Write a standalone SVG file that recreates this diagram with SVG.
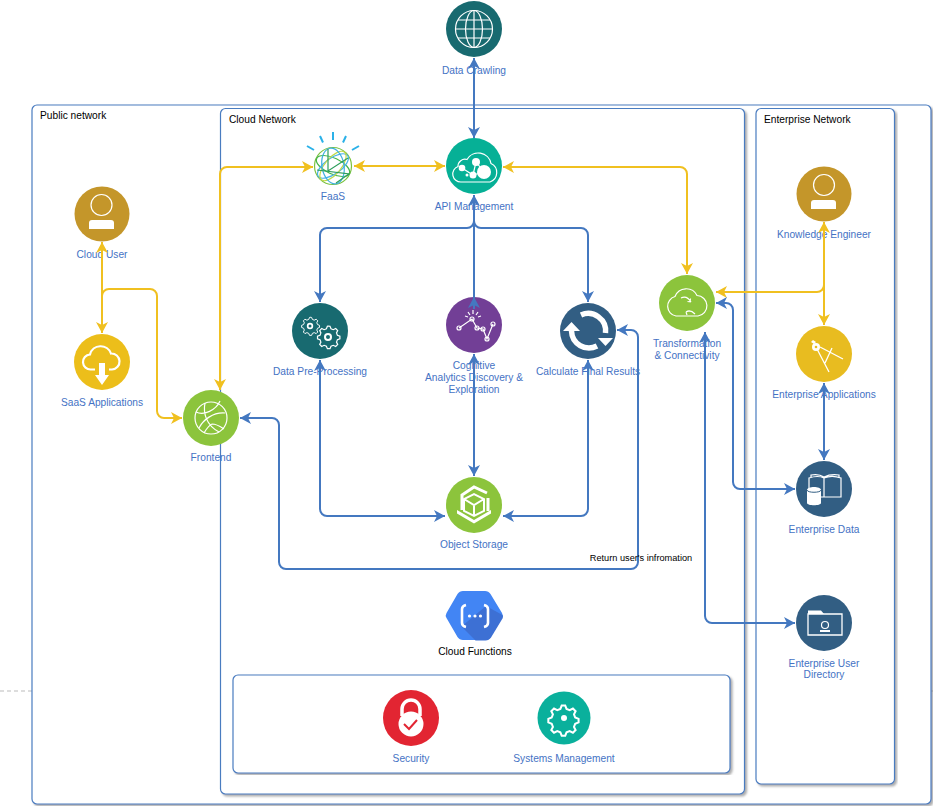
<svg xmlns="http://www.w3.org/2000/svg" width="933" height="806" viewBox="0 0 933 806">
<style>
text{font-family:"Liberation Sans",Arial,sans-serif;font-size:10.2px;text-anchor:middle;fill:#4472c4}
text.k{fill:#000}
text.s{text-anchor:start;fill:#000}
.box{fill:#fff;stroke:#4a7cc0;stroke-width:1.2;filter:url(#sh)}
.b{fill:none;stroke:#4478c0;stroke-width:2}
.y{fill:none;stroke:#f0c020;stroke-width:2}
.bb{marker-end:url(#ab);marker-start:url(#ab)}
.be{marker-end:url(#ab)}
.yy{marker-end:url(#ay);marker-start:url(#ay)}
.ye{marker-end:url(#ay)}
.i{fill:none;stroke:#fff;stroke-width:1.2}
.f{fill:#fff;stroke:none}
</style>
<defs>
<filter id="sh" x="-2%" y="-2%" width="104%" height="104%"><feDropShadow dx="2" dy="2" stdDeviation="1" flood-color="#777" flood-opacity=".6"/></filter>
<marker id="ab" viewBox="0 0 12 12" refX="11" refY="6" markerWidth="12" markerHeight="12" markerUnits="userSpaceOnUse" orient="auto-start-reverse"><path d="M0 0L11 6L0 12L3 6Z" fill="#4478c0"/></marker>
<marker id="ay" viewBox="0 0 12 12" refX="11" refY="6" markerWidth="12" markerHeight="12" markerUnits="userSpaceOnUse" orient="auto-start-reverse"><path d="M0 0L11 6L0 12L3 6Z" fill="#f0c020"/></marker>
<g id="gear"><path class="i" d="M0-10l2 .3 1 2.500 2.300.9 2.400-1.200 2 2-1.200 2.400.9 2.300 2.500 1v2.600l-2.500 1-.9 2.300 1.200 2.400-2 2-2.400-1.200-2.300.9-1 2.500h-2.600l-1-2.500-2.300-.9-2.400 1.200-2-2 1.200-2.400-.9-2.300-2.500-1v-2.600l2.500-1 .9-2.300-1.200-2.400 2-2 2.400 1.200 2.300-.9 1-2.500z" transform="translate(0,-1)"/><circle class="f" r="4"/></g>
</defs>

<path d="M0 691H32M931 691H933" fill="none" stroke="#bbb" stroke-dasharray="4 3"/>

<g id="public-network"><rect class="box" x="32" y="105" width="899" height="699" rx="5"/><text class="s" x="40" y="119">Public network</text></g>
<g id="cloud-network"><rect class="box" x="220.500" y="108.500" width="524" height="685.500" rx="5"/><text class="s" x="229" y="123">Cloud Network</text></g>
<g id="enterprise-network"><rect class="box" x="756" y="108.500" width="138.500" height="675.500" rx="5"/><text class="s" x="764" y="123">Enterprise Network</text></g>
<g id="services-panel"><rect class="box" x="233" y="675" width="497" height="98" rx="5"/></g>

<g id="data-crawling"><circle cx="474" cy="29" r="28" fill="#186a70"/><g class="i" transform="translate(474,29)"><circle r="18.500"/><ellipse rx="8.500" ry="18.500"/><path d="M0-18.500V18.500M-18.500 0H18.500M-16-9H16M-16 9H16"/></g><text x="474" y="73.500">Data Crawling</text></g>
<g id="api-management"><circle cx="474" cy="166" r="28" fill="#06b096"/><path class="i" d="M461 182a8 8 0 0 1-3-15.500a7 7 0 0 1 9-7a13 13 0 0 1 24 4a10 10 0 0 1-1 18.500z"/><g class="f"><circle cx="484" cy="172" r="7"/><circle cx="476" cy="162" r="4"/><circle cx="462" cy="168" r="3.300"/><circle cx="473" cy="175" r="3.500"/><circle cx="467" cy="175" r="1.500"/></g><path class="i" d="M462 168L473 175L476 162L484 172L473 175"/><text x="474" y="210">API Management</text></g>
<g id="faas"><g fill="none" stroke-width="1.200" transform="translate(333,166)"><circle r="18.500" stroke="#7cc242"/><ellipse rx="18" ry="8" stroke="#45b649" transform="rotate(25)"/><ellipse rx="18" ry="8" stroke="#4ab4e8" transform="rotate(-35)"/><ellipse rx="8" ry="18" stroke="#c0d84a" transform="rotate(40)"/><ellipse rx="11" ry="18" stroke="#3fb0e0" transform="rotate(-10)"/><path d="M-5-17L-5 5L15-8M-16 4L16 8L3 17" stroke="#2e9e5a"/></g><path d="M333 132v8M320 136l3 6.500M346 136l-3 6.500M307 146l7 4M359 146l-7 4" stroke="#2bb1e8" stroke-width="2" fill="none"/><text x="333" y="200">FaaS</text></g>
<g id="cloud-user"><circle cx="102" cy="214" r="27.500" fill="#c4962a"/><circle class="i" cx="101.500" cy="205" r="10.500"/><path class="f" d="M89 229v-6a3 3 0 0 1 3-3h19a3 3 0 0 1 3 3v6z"/><text x="102" y="258">Cloud User</text></g>
<g id="saas-applications"><circle cx="102" cy="362" r="28" fill="#ecbe1a"/><path fill="none" stroke="#fff" stroke-width="2.200" d="M91 369.500a7.500 7.500 0 0 1-1-15a11 11 0 0 1 21-1a8 8 0 0 1 1 16z"/><rect x="95" y="363" width="14" height="9" fill="#ecbe1a"/><path class="f" d="M99 363h6v12h4l-7 10-7-10h4z"/><text x="102" y="406">SaaS Applications</text></g>
<g id="frontend"><circle cx="211" cy="418" r="28" fill="#8cc43c"/><g class="i" stroke-width="1.300"><circle cx="211" cy="418" r="16"/><path d="M196 412c8 4 20-2 24-11M199 428c4-8 14-16 26-15M205 403c-2 10 1 22 14 29M212 424c5 0 9 3 12 5M204 433c3-5 5-8 8-9"/></g><text x="211" y="461">Frontend</text></g>
<g id="data-pre-processing"><circle cx="320" cy="331" r="28" fill="#186a70"/><use href="#gear" transform="translate(310,326) scale(.8)"/><use href="#gear" transform="translate(328,337)"/><circle cx="310" cy="326" r="1.500" fill="#186a70"/><circle cx="328" cy="337" r="2" fill="#186a70"/><text x="320" y="375">Data Pre-Processing</text></g>
<g id="cognitive"><circle cx="474" cy="325" r="28" fill="#723f96"/><g class="i" fill="#723f96"><path d="M459 328L472 319L477 328L483 329L487 339L493 324"/><circle cx="459" cy="328" r="2"/><circle cx="472" cy="319" r="2"/><circle cx="477" cy="328" r="2"/><circle cx="483" cy="329" r="2"/><circle cx="487" cy="339" r="2"/><circle cx="493" cy="324" r="2"/></g><path class="i" d="M473 314v-4M470 315l-2-3M476 315l2-3M468 317l-3-1M478 317l3-1"/><text x="474" y="369">Cognitive</text><text x="474" y="381">Analytics Discovery &amp;</text><text x="474" y="393">Exploration</text></g>
<g id="calculate-final-results"><circle cx="588" cy="331" r="28" fill="#325e83"/><path fill="none" stroke="#fff" stroke-width="5.500" d="M581 315A17.500 17.500 0 0 1 605.500 333M597 346A17.500 17.500 0 0 1 571.500 331"/><path class="f" d="M563 331h17l-8.500-9zM598 338h15l-7.500 8z"/><text x="588" y="375">Calculate Final Results</text></g>
<g id="transformation"><circle cx="687" cy="303" r="28" fill="#8cc43c"/><path class="i" d="M676 316a10 10 0 0 1-1-19.500a12 12 0 0 1 22-1a10.300 10.300 0 0 1 1 20.500z"/><path class="i" d="M681 298c4-2 7-1 10 4M690 302l.5-3.500M691 302l-3.500-.5M695 314c-3-3-6-4-9-2M686 312l1 3M686 312l3-1"/><text x="687" y="347">Transformation</text><text x="687" y="359">&amp; Connectivity</text></g>
<g id="knowledge-engineer"><circle cx="824" cy="194" r="27.500" fill="#c4962a"/><circle class="i" cx="824" cy="185" r="10.500"/><path class="f" d="M811 209v-6a3 3 0 0 1 3-3h19a3 3 0 0 1 3 3v6z"/><text x="824" y="238">Knowledge Engineer</text></g>
<g id="enterprise-applications"><circle cx="824" cy="354" r="28" fill="#e8bc20"/><path fill="none" stroke="#fff" stroke-width="1.300" d="M816 347L829 372M820 347L843 359M832 348L825 363"/><circle class="f" cx="816" cy="347" r="4"/><circle cx="816" cy="347" r="1.300" fill="#e8bc20"/><path class="f" d="M811 342l2-2 3 2-2 2z"/><text x="824" y="398">Enterprise Applications</text></g>
<g id="enterprise-data"><circle cx="824" cy="489" r="28" fill="#325e83"/><path class="i" d="M809 490v-12c6-2 11-2 15 0 5-2 11-2 17 0v19h-17c-3 0-6 0-10 0M824 478v19M811 477v-2c5-1 10 0 13 2 4-2 9-3 15-2v2"/><path class="f" d="M807 490c0-4 14-4 14 0v13c0 3-14 3-14 0z"/><path d="M807 490c0 3 14 3 14 0" fill="none" stroke="#325e83"/><text x="824" y="533">Enterprise Data</text></g>
<g id="enterprise-user-directory"><circle cx="824" cy="623" r="28" fill="#325e83"/><path fill="#325e83" stroke="#fff" stroke-width="1.300" d="M808 635v-21h34v21z"/><path class="f" d="M808 614v-3.500h13l3 3.500z"/><circle class="i" cx="825" cy="625" r="3.500"/><path class="f" d="M820 632v-2h10v2z"/><text x="824" y="667">Enterprise User</text><text x="824" y="678">Directory</text></g>
<g id="object-storage"><circle cx="474" cy="505" r="28" fill="#8cc43c"/><g fill="none" stroke="#fff"><path stroke-width="2" d="M464 499v12l10 5 10-5v-12l-10-5zM464 499l10 6 10-6M474 505v11"/><path stroke-width="3" d="M462 510V495L474 487L487 493M488 498V511"/></g><path class="f" d="M457 510l17 10 17-10v3.500l-17 10-17-10z"/><text x="474" y="548">Object Storage</text></g>
<g id="cloud-functions"><path d="M463 591h22q3.500 0 5.500 3l11.500 19q1.500 2.500 0 5l-11.500 19q-2 3-5.500 3h-22q-3.500 0-5.500-3l-11-19q-1.500-2.500 0-5l11-19q2-3 5.500-3z" fill="#4285f4"/><path d="M486 606l16.500 9q1 1.500 0 3.500l-11.500 19q-2 3-5.500 3h-10l-14-14z" fill="#3d70d4"/><path fill="none" stroke="#fff" stroke-width="2.600" d="M466 605q-4 1-4 4v14q0 3 4 4M484 605q4 1 4 4v14q0 3-4 4"/><circle class="f" cx="469.500" cy="616" r="1.600"/><circle class="f" cx="475" cy="616" r="1.600"/><circle class="f" cx="480.500" cy="616" r="1.600"/><text class="k" x="475" y="655">Cloud Functions</text></g>
<g id="security"><circle cx="411" cy="718" r="28" fill="#e22532"/><path fill="none" stroke="#fff" stroke-width="3.500" d="M402 716v-7a9 9 0 0 1 18 0v7"/><circle class="f" cx="411" cy="724" r="12.500"/><path d="M404 724l5 5 8-9" fill="none" stroke="#e22532" stroke-width="2"/><text x="411" y="762">Security</text></g>
<g id="systems-management"><circle cx="564" cy="718" r="26.500" fill="#0ab09c"/><path fill="none" stroke="#fff" stroke-width="1.500" transform="translate(559,719) scale(1.350)" d="M2-10l2.600 0 1 2.500 2.300.9 2.400-1.200 2 2-1.200 2.400.9 2.300 2.500 1v2.600l-2.500 1-.9 2.300 1.200 2.400-2 2-2.400-1.200-2.300.9-1 2.500h-2.600l-1-2.500-2.300-.9-2.400 1.200-2-2 1.200-2.400-.9-2.300-2.500-1v-2.600l2.500-1 .9-2.300-1.200-2.400 2-2 2.400 1.200 2.300-.9 1-2.500z"/><circle cx="564" cy="718" r="3" fill="#fff"/><text x="564" y="762">Systems Management</text></g>

<g id="connectors">
<path class="b bb" d="M474 58V138"/>
<path class="y yy" d="M354 166H445"/>
<path class="y yy" d="M220 390V174a7 7 0 0 1 7-7H313"/>
<path class="y yy" d="M503 167H680a7 7 0 0 1 7 7V274"/>
<path class="b be" d="M474 308V195"/>
<path class="b be" d="M474 309V297"/>
<path class="b be" d="M474 197v24a7 7 0 0 1-7 7H327a7 7 0 0 0-7 7V302"/>
<path class="b be" d="M474 197v24a7 7 0 0 0 7 7H581a7 7 0 0 1 7 7V302"/>
<path class="b bb" d="M474 354V476"/>
<path class="b bb" d="M320 360V509a7 7 0 0 0 7 7H445"/>
<path class="b bb" d="M588 360V509a7 7 0 0 1-7 7H503"/>
<path class="b bb" d="M240 418H272a7 7 0 0 1 7 7V562a7 7 0 0 0 7 7H631a7 7 0 0 0 7-7V337a7 7 0 0 0-7-7H617"/>
<path class="y yy" d="M102 242V333"/>
<path class="y ye" d="M102 296a7 7 0 0 1 7-7H150a7 7 0 0 1 7 7V411a7 7 0 0 0 7 7H182"/>
<path class="y yy" d="M824 222V325"/>
<path class="y ye" d="M824 285a7 7 0 0 1-7 7H716"/>
<path class="b bb" d="M824 383V460"/>
<path class="b bb" d="M716 303H726a7 7 0 0 1 7 7V482a7 7 0 0 0 7 7H795"/>
<path class="b bb" d="M705 332V616a7 7 0 0 0 7 7H795"/>
</g>
<text class="k" style="font-size:9.2px" x="641" y="561">Return user's infromation</text>
</svg>
